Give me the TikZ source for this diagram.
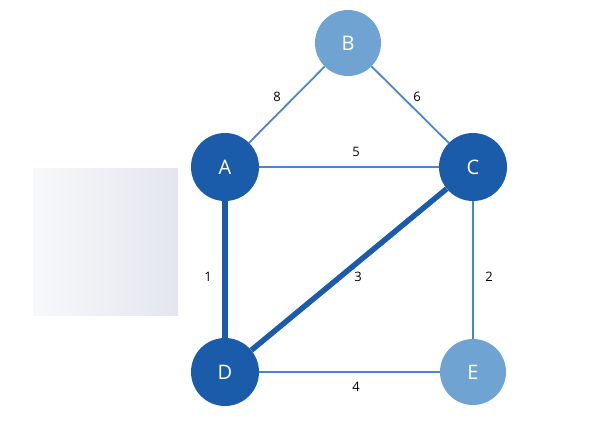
\documentclass[tikz,border=0pt]{standalone}
\usepackage{fontspec}
\setmainfont{Open Sans}
\definecolor{darkblue}{HTML}{1A5BAA}
\definecolor{lightblue}{HTML}{6FA4D2}
\definecolor{edgeblue}{HTML}{4A86C8}
\definecolor{grayA}{HTML}{F7F8FA}
\definecolor{grayB}{HTML}{E3E6EE}
\begin{document}
\begin{tikzpicture}[x=1pt,y=-1pt,
  vtx/.style={circle,minimum size=68pt,inner sep=0pt,text=white,font=\fontsize{20}{20}\selectfont},
  dk/.style={vtx,fill=darkblue},
  lt/.style={vtx,fill=lightblue,minimum size=66pt},
  thin/.style={draw=edgeblue,line width=1.8pt},
  thick/.style={draw=darkblue,line width=5.5pt},
  lab/.style={font=\fontsize{13}{13}\selectfont,text=black}]
\useasboundingbox (0,0) rectangle (608,432);
\shade[left color=grayA,right color=grayB] (33,168) rectangle (178,315);
\node[lt] (B) at (348,43) {B};
\node[dk] (A) at (225,167) {A};
\node[dk] (C) at (473,167) {C};
\node[dk] (D) at (225,372) {D};
\node[lt] (E) at (473,372) {E};
\path[thin] (A) -- (B);
\path[thin] (B) -- (C);
\path[thin] (A) -- (C);
\path[thin] (C) -- (E);
\path[thin] (D) -- (E);
\path[thick] (A) -- (D);
\path[thick] (C) -- (D);
\node[lab] (l8) at (277,97) {8};
\node[lab] (l6) at (417,97) {6};
\node[lab] (l5) at (356,152) {5};
\node[lab] (l1) at (208,277) {1};
\node[lab] (l3) at (358,277) {3};
\node[lab] (l2) at (489,277) {2};
\node[lab] (l4) at (356,387) {4};
\end{tikzpicture}
\end{document}
